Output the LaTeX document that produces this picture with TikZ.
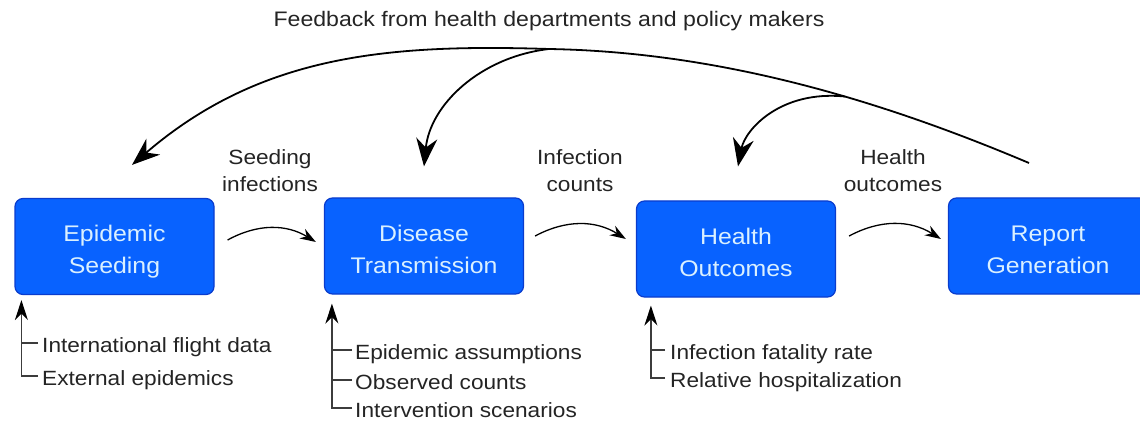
\documentclass[tikz,border=0pt]{standalone}
\usepackage{fontspec}
\setmainfont{Liberation Sans}[FakeStretch=1.1]
\usetikzlibrary{arrows.meta}
\definecolor{boxblue}{RGB}{8,98,255}
\definecolor{boxedge}{RGB}{10,60,205}
\definecolor{boxtext}{RGB}{218,240,255}
\definecolor{txt}{RGB}{36,36,36}
\definecolor{linegray}{RGB}{60,60,60}
\newcommand{\stagetext}[2]{\rule{0pt}{28pt}#1\\#2\rule[-6pt]{0pt}{6pt}}
\begin{document}
\begin{tikzpicture}[x=1pt,y=-1pt,
  stage/.style={draw=boxedge, line width=1.2pt, fill=boxblue, rounded corners=8pt,
    minimum width=199pt, minimum height=96pt, align=center, text=boxtext,
    font=\fontsize{22.6}{32}\selectfont, inner sep=0pt},
  lbl/.style={align=center, text=txt, font=\fontsize{20.6}{27}\selectfont, inner sep=0pt},
  item/.style={anchor=base west, text=txt, font=\fontsize{20.6}{25}\selectfont, inner sep=0pt},
  flow/.style={line width=1.3pt, -{Stealth[length=16pt,width=11pt]}},
  feed/.style={line width=1.8pt, -{Stealth[length=28pt,width=21pt]}},
  feedline/.style={line width=1.8pt},
  tick/.style={line width=1.1pt, draw=linegray},
  inarrow/.style={line width=1.2pt, draw=linegray, -{Stealth[length=20pt,width=13pt,color=black]}}
]
\useasboundingbox (0,0) rectangle (1140,422);

% stages
\node[stage] (b1) at (114.5,246.5) {\stagetext{Epidemic}{Seeding}};
\node[stage] (b2) at (424,246) {\stagetext{Disease}{Transmission}};
\node[stage] (b3) at (736,249) {\stagetext{Health}{Outcomes}};
\node[stage] (b4) at (1048,246) {\stagetext{Report}{Generation}};

% labels between stages
\node[lbl] (l1) at (270,171) {Seeding\\infections};
\node[lbl] (l2) at (580,171) {Infection\\counts};
\node[lbl] (l3) at (893,171) {Health\\outcomes};
\node[lbl, font=\fontsize{21}{25}\selectfont] (top) at (549,21) {Feedback from health departments and policy makers};

% flow arrows
\draw[flow] ([xshift=13pt,yshift=6.5pt]b1.east) to[bend left=30] ([xshift=-8pt,yshift=4pt]b2.west);
\draw[flow] ([xshift=11pt,yshift=10pt]b2.east) to[bend left=30] ([xshift=-10pt,yshift=10pt]b3.west);
\draw[flow] ([xshift=13pt,yshift=13pt]b3.east) to[bend left=30] ([xshift=-7pt,yshift=7pt]b4.west);

% feedback arcs
\coordinate (fbR) at (1029,163);
\coordinate (fbTop) at (549,49);
\draw[feedline] (fbR) .. controls (880,100) and (720,52) .. coordinate[pos=0.4] (fbMid) (fbTop);
\draw[feed] (fbTop) .. controls (390,44) and (261,54) .. ([xshift=17.5pt,yshift=33pt]b1.north);
\draw[feed] (fbTop) .. controls (480,57) and (430,105) .. ([yshift=31pt]b2.north);
\draw[feed] (fbMid) .. controls (780,90) and (745,130) .. ([xshift=2pt,yshift=34pt]b3.north);

% inputs of Epidemic Seeding
\coordinate (v1) at ([xshift=7pt,yshift=-5pt]b1.south west);
\node[item] (i11) at (42,352) {International flight data};
\node[item] (i12) at (42,385) {External epidemics};
\coordinate (t11) at ([xshift=-4pt,yshift=9pt]i11.base west);
\coordinate (t12) at ([xshift=-4pt,yshift=9pt]i12.base west);
\draw[tick] (t11) -- (v1 |- t11);
\draw[inarrow] (t12) -| (v1);

% inputs of Disease Transmission
\coordinate (v2) at ([xshift=8pt,yshift=-9pt]b2.south west);
\node[item] (i21) at (355,359) {Epidemic assumptions};
\node[item] (i22) at (355,389) {Observed counts};
\node[item] (i23) at (355,417) {Intervention scenarios};
\coordinate (t21) at ([xshift=-3pt,yshift=9pt]i21.base west);
\coordinate (t22) at ([xshift=-3pt,yshift=9pt]i22.base west);
\coordinate (t23) at ([xshift=-3pt,yshift=9pt]i23.base west);
\draw[tick] (t21) -- (v2 |- t21);
\draw[tick] (t22) -- (v2 |- t22);
\draw[inarrow] (t23) -| (v2);

% inputs of Health Outcomes
\coordinate (v3) at ([xshift=15pt,yshift=-8pt]b3.south west);
\node[item] (i31) at (670,359) {Infection fatality rate};
\node[item] (i32) at (670,387) {Relative hospitalization};
\coordinate (t31) at ([xshift=-5pt,yshift=9pt]i31.base west);
\coordinate (t32) at ([xshift=-5pt,yshift=9pt]i32.base west);
\draw[tick] (t31) -- (v3 |- t31);
\draw[inarrow] (t32) -| (v3);
\end{tikzpicture}
\end{document}
